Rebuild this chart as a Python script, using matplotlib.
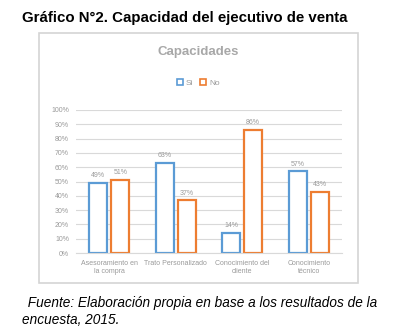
import matplotlib.pyplot as plt
from matplotlib.patches import Rectangle
import numpy as np

categories = ['Asesoramiento en\nla compra', 'Trato Personalizado',
              'Conocimiento del\ncliente', 'Conocimiento\ntécnico']
si_values = [49, 63, 14, 57]
no_values = [51, 37, 86, 43]
y_ticks = list(range(0, 101, 10))

W, H = 396, 335
fig = plt.figure(figsize=(W / 100, H / 100), dpi=100)
plt.rcParams['font.family'] = ['Liberation Sans', 'DejaVu Sans']

blue = '#5B9BD5'
orange = '#ED7D31'
gray = '#9a9a9a'

# Main heading and footnote
fig.text(22 / W, 1 - 18 / H, 'Gráfico N°2. Capacidad del ejecutivo de venta',
         fontsize=10.8, fontweight='bold', va='center', ha='left')
fig.text(24 / W, 1 - 303 / H, ' Fuente: Elaboración propia en base a los resultados de la',
         fontsize=9.8, style='italic', va='center', ha='left')
fig.text(22 / W, 1 - 320 / H, 'encuesta, 2015.',
         fontsize=9.8, style='italic', va='center', ha='left')

# Chart frame
fig.patches.append(Rectangle((39 / W, 1 - 283 / H), (358 - 39) / W, (283 - 33) / H,
                             transform=fig.transFigure, fill=False,
                             edgecolor='#d4d4d4', linewidth=1.2))

fig.text(198 / W, 1 - 52 / H, 'Capacidades', fontsize=9.5, color='#a8a8a8',
         ha='center', va='center', fontweight='bold')

# Plot area
ax = fig.add_axes([76 / W, 1 - 253 / H, (342 - 76) / W, (253 - 110) / H])
x = np.arange(len(categories))
bw = 0.27
off = 0.165
ax.bar(x - off, si_values, bw, facecolor='white', edgecolor=blue, linewidth=1.6)
ax.bar(x + off, no_values, bw, facecolor='white', edgecolor=orange, linewidth=1.6)
for xi, s, n in zip(x, si_values, no_values):
    ax.text(xi - off, s + 2.5, f'{s}%', ha='center', va='bottom', fontsize=5, color=gray)
    ax.text(xi + off, n + 2.5, f'{n}%', ha='center', va='bottom', fontsize=5, color=gray)

ax.set_xlim(-0.5, 3.5)
ax.set_ylim(0, 100)
ax.set_yticks(y_ticks)
ax.set_yticklabels([f'{v}%' for v in y_ticks], fontsize=5, color=gray)
ax.set_xticks(x)
ax.set_xticklabels(categories, fontsize=5, color=gray)
ax.tick_params(length=0, pad=5)
ax.yaxis.grid(True, color='#d9d9d9', linewidth=0.8)
ax.set_axisbelow(True)
for s in ['top', 'right', 'left']:
    ax.spines[s].set_visible(False)
ax.spines['bottom'].set_color('#d9d9d9')

handles = [Rectangle((0, 0), 1, 1, facecolor='white', edgecolor=blue, linewidth=1.2),
           Rectangle((0, 0), 1, 1, facecolor='white', edgecolor=orange, linewidth=1.2)]
fig.legend(handles, ['Si', 'No'], loc='center', bbox_to_anchor=(198 / W, 1 - 83 / H),
           ncol=2, frameon=False, fontsize=6, labelcolor=gray,
           handlelength=0.8, handleheight=0.8, handletextpad=0.3, columnspacing=0.8)

fig.savefig('out.png', dpi=100)
